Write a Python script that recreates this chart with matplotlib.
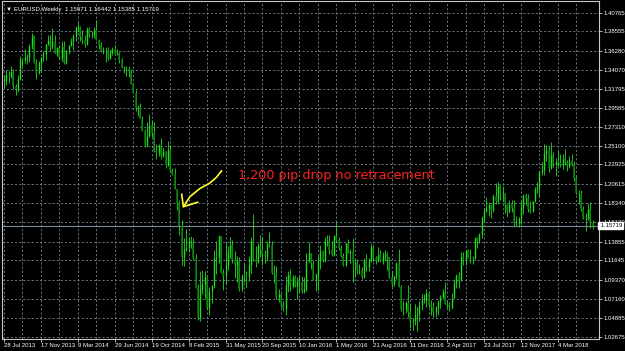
import matplotlib
matplotlib.use("Agg")
import matplotlib.pyplot as plt
import matplotlib.transforms as mtransforms
import numpy as np

# EURUSD weekly bars, week of 28 Jul 2013 .. week of 17 Jun 2018
first_open = 1.3278
closes = [
    1.3280, 1.3342, 1.3336, 1.3380, 1.3220, 1.3177, 1.3300, 1.3524, 1.3523, 1.3556,
    1.3553, 1.3685, 1.3801, 1.3485, 1.3363, 1.3497, 1.3554, 1.3588, 1.3705, 1.3742,
    1.3677, 1.3740, 1.3590, 1.3665, 1.3541, 1.3679, 1.3487, 1.3633, 1.3692, 1.3740,
    1.3802, 1.3911, 1.3911, 1.3792, 1.3751, 1.3704, 1.3886, 1.3810, 1.3830, 1.3870,
    1.3760, 1.3697, 1.3630, 1.3634, 1.3642, 1.3540, 1.3609, 1.3646, 1.3592, 1.3604,
    1.3525, 1.3430, 1.3429, 1.3411, 1.3402, 1.3240, 1.3133, 1.2951, 1.2963, 1.2832,
    1.2686, 1.2518, 1.2627, 1.2760, 1.2668, 1.2452, 1.2441, 1.2526, 1.2389, 1.2452,
    1.2288, 1.2467, 1.2226, 1.2180, 1.2000, 1.1842, 1.1565, 1.1204, 1.1289, 1.1316,
    1.1387, 1.1380, 1.1195, 1.0843, 1.0493, 1.0825, 1.0890, 1.0970, 1.0601, 1.0807,
    1.0874, 1.1198, 1.1200, 1.1448, 1.1015, 1.0985, 1.1112, 1.1265, 1.1350, 1.1166,
    1.1110, 1.1160, 1.0827, 1.0981, 1.0985, 1.0965, 1.1105, 1.1389, 1.1183, 1.1148,
    1.1338, 1.1296, 1.1233, 1.1211, 1.1358, 1.1350, 1.1013, 1.1002, 1.0740, 1.0770,
    1.0646, 1.0593, 1.0881, 1.0990, 1.0867, 1.0965, 1.0860, 1.0920, 1.0916, 1.0795,
    1.0831, 1.1156, 1.1256, 1.1130, 1.0932, 1.1008, 1.1153, 1.1273, 1.1165, 1.1390,
    1.1397, 1.1285, 1.1224, 1.1457, 1.1403, 1.1310, 1.1222, 1.1114, 1.1366, 1.1252,
    1.1279, 1.1135, 1.1137, 1.1052, 1.1050, 1.0974, 1.1175, 1.1085, 1.1160, 1.1325,
    1.1198, 1.1157, 1.1233, 1.1153, 1.1227, 1.1240, 1.1200, 1.0972, 1.0886, 1.0979,
    1.1135, 1.0855, 1.0588, 1.0588, 1.0663, 1.0559, 1.0448, 1.0454, 1.0517, 1.0530,
    1.0640, 1.0701, 1.0695, 1.0783, 1.0638, 1.0614, 1.0560, 1.0620, 1.0671, 1.0736,
    1.0798, 1.0652, 1.0643, 1.0615, 1.0723, 1.0896, 1.0998, 1.0933, 1.1206, 1.1165,
    1.1282, 1.1197, 1.1197, 1.1194, 1.1426, 1.1400, 1.1469, 1.1665, 1.1750, 1.1775,
    1.1821, 1.1761, 1.1923, 1.1860, 1.2036, 1.1946, 1.1951, 1.1815, 1.1733, 1.1822,
    1.1785, 1.1606, 1.1607, 1.1664, 1.1794, 1.1935, 1.1895, 1.1772, 1.1747, 1.1860,
    1.2005, 1.2029, 1.2202, 1.2222, 1.2427, 1.2458, 1.2252, 1.2405, 1.2296, 1.2317,
    1.2307, 1.2289, 1.2352, 1.2324, 1.2280, 1.2330, 1.2288, 1.2130, 1.1960, 1.1940,
    1.1770, 1.1650, 1.1658, 1.1768, 1.1609, 1.15719,
]
highs = [
    1.3346, 1.3401, 1.3393, 1.3453, 1.3415, 1.3236, 1.3340, 1.3569, 1.3540, 1.3646,
    1.3587, 1.3705, 1.3832, 1.3812, 1.3534, 1.3503, 1.3560, 1.3621, 1.3709, 1.3811,
    1.3811, 1.3893, 1.3810, 1.3675, 1.3702, 1.3739, 1.3740, 1.3619, 1.3696, 1.3774,
    1.3824, 1.3915, 1.3967, 1.3923, 1.3876, 1.3810, 1.3906, 1.3906, 1.3867, 1.3906,
    1.3993, 1.3765, 1.3737, 1.3670, 1.3670, 1.3677, 1.3646, 1.3679, 1.3701, 1.3644,
    1.3618, 1.3546, 1.3445, 1.3444, 1.3445, 1.3417, 1.3252, 1.3170, 1.2995, 1.3015,
    1.2860, 1.2705, 1.2791, 1.2887, 1.2811, 1.2790, 1.2535, 1.2530, 1.2600, 1.2500,
    1.2455, 1.2570, 1.2519, 1.2255, 1.2251, 1.2003, 1.1869, 1.1640, 1.1424, 1.1534,
    1.1443, 1.1450, 1.1428, 1.1245, 1.0888, 1.1043, 1.1052, 1.1035, 1.0986, 1.0849,
    1.0852, 1.1290, 1.1392, 1.1467, 1.1450, 1.1064, 1.1380, 1.1337, 1.1437, 1.1410,
    1.1278, 1.1216, 1.1200, 1.1008, 1.1129, 1.1044, 1.1214, 1.1440, 1.1714, 1.1331,
    1.1371, 1.1460, 1.1440, 1.1290, 1.1387, 1.1495, 1.1387, 1.1106, 1.1096, 1.0830,
    1.0780, 1.0686, 1.0981, 1.1043, 1.1060, 1.0990, 1.0994, 1.0971, 1.0994, 1.0986,
    1.0968, 1.1246, 1.1376, 1.1255, 1.1175, 1.1014, 1.1218, 1.1342, 1.1290, 1.1438,
    1.1464, 1.1465, 1.1398, 1.1462, 1.1616, 1.1445, 1.1345, 1.1250, 1.1370, 1.1416,
    1.1299, 1.1427, 1.1185, 1.1186, 1.1120, 1.1085, 1.1198, 1.1234, 1.1190, 1.1366,
    1.1340, 1.1222, 1.1327, 1.1282, 1.1258, 1.1282, 1.1258, 1.1208, 1.1039, 1.0986,
    1.1145, 1.1299, 1.0870, 1.0688, 1.0690, 1.0874, 1.0669, 1.0490, 1.0652, 1.0615,
    1.0685, 1.0775, 1.0775, 1.0829, 1.0800, 1.0700, 1.0679, 1.0630, 1.0700, 1.0760,
    1.0828, 1.0906, 1.0690, 1.0676, 1.0780, 1.0951, 1.1000, 1.1023, 1.1267, 1.1268,
    1.1285, 1.1296, 1.1296, 1.1215, 1.1445, 1.1445, 1.1489, 1.1683, 1.1777, 1.1910,
    1.1847, 1.1825, 1.1940, 1.2070, 1.2092, 1.2060, 1.2034, 1.1938, 1.1829, 1.1880,
    1.1880, 1.1880, 1.1690, 1.1673, 1.1860, 1.1940, 1.1961, 1.1940, 1.1863, 1.1866,
    1.2023, 1.2089, 1.2219, 1.2323, 1.2537, 1.2522, 1.2512, 1.2555, 1.2435, 1.2365,
    1.2446, 1.2413, 1.2413, 1.2476, 1.2345, 1.2396, 1.2414, 1.2330, 1.2152, 1.1996,
    1.1997, 1.1800, 1.1719, 1.1840, 1.1852, 1.16442,
]
lows = [
    1.3188, 1.3232, 1.3254, 1.3305, 1.3176, 1.3105, 1.3150, 1.3290, 1.3455, 1.3482,
    1.3471, 1.3497, 1.3650, 1.3480, 1.3296, 1.3360, 1.3401, 1.3509, 1.3518, 1.3693,
    1.3626, 1.3655, 1.3605, 1.3573, 1.3530, 1.3507, 1.3477, 1.3477, 1.3591, 1.3685,
    1.3642, 1.3745, 1.3861, 1.3749, 1.3705, 1.3673, 1.3700, 1.3791, 1.3780, 1.3774,
    1.3752, 1.3648, 1.3615, 1.3586, 1.3502, 1.3524, 1.3535, 1.3585, 1.3590, 1.3575,
    1.3490, 1.3421, 1.3367, 1.3333, 1.3318, 1.3244, 1.3130, 1.2918, 1.2860, 1.2835,
    1.2680, 1.2500, 1.2501, 1.2614, 1.2613, 1.2439, 1.2358, 1.2394, 1.2360, 1.2380,
    1.2246, 1.2270, 1.2219, 1.2165, 1.1999, 1.1754, 1.1459, 1.1114, 1.1097, 1.1270,
    1.1262, 1.1316, 1.1175, 1.0840, 1.0462, 1.0457, 1.0766, 1.0713, 1.0591, 1.0520,
    1.0662, 1.0836, 1.1000, 1.1138, 1.1016, 1.0818, 1.0886, 1.1048, 1.1189, 1.1135,
    1.0955, 1.0916, 1.0808, 1.0808, 1.0915, 1.0849, 1.0926, 1.1016, 1.1157, 1.1087,
    1.1134, 1.1210, 1.1105, 1.1136, 1.1161, 1.1319, 1.1006, 1.0896, 1.0706, 1.0674,
    1.0616, 1.0566, 1.0524, 1.0796, 1.0804, 1.0845, 1.0850, 1.0711, 1.0777, 1.0777,
    1.0780, 1.0810, 1.1150, 1.1059, 1.0930, 1.0810, 1.0822, 1.1058, 1.1143, 1.1144,
    1.1329, 1.1234, 1.1217, 1.1217, 1.1386, 1.1290, 1.1200, 1.1100, 1.1098, 1.1250,
    1.1130, 1.0912, 1.0970, 1.0999, 1.1000, 1.0951, 1.0952, 1.1045, 1.1045, 1.1150,
    1.1160, 1.1123, 1.1144, 1.1150, 1.1122, 1.1161, 1.1049, 1.0961, 1.0852, 1.0859,
    1.0943, 1.0853, 1.0568, 1.0518, 1.0550, 1.0505, 1.0366, 1.0350, 1.0410, 1.0340,
    1.0453, 1.0583, 1.0658, 1.0618, 1.0620, 1.0521, 1.0494, 1.0494, 1.0526, 1.0600,
    1.0708, 1.0650, 1.0605, 1.0570, 1.0590, 1.0720, 1.0838, 1.0839, 1.0920, 1.1109,
    1.1110, 1.1195, 1.1131, 1.1118, 1.1170, 1.1312, 1.1371, 1.1429, 1.1612, 1.1729,
    1.1688, 1.1662, 1.1730, 1.1822, 1.1823, 1.1869, 1.1860, 1.1717, 1.1669, 1.1730,
    1.1732, 1.1574, 1.1574, 1.1554, 1.1588, 1.1710, 1.1810, 1.1729, 1.1717, 1.1735,
    1.1850, 1.1955, 1.1915, 1.2165, 1.2166, 1.2335, 1.2206, 1.2235, 1.2260, 1.2154,
    1.2273, 1.2258, 1.2240, 1.2287, 1.2215, 1.2255, 1.2275, 1.2095, 1.1940, 1.1823,
    1.1750, 1.1647, 1.1510, 1.1640, 1.1540, 1.15385,
]

price_ticks = [1.40765, 1.38555, 1.36280, 1.34070, 1.31795, 1.29585, 1.27310,
               1.25100, 1.22925, 1.20615, 1.18340, 1.16130, 1.13855, 1.11645,
               1.09370, 1.07160, 1.04885, 1.02675]
date_labels = ["28 Jul 2013", "17 Nov 2013", "9 Mar 2014", "29 Jun 2014",
               "19 Oct 2014", "8 Feb 2015", "31 May 2015", "20 Sep 2015",
               "10 Jan 2016", "1 May 2016", "21 Aug 2016", "11 Dec 2016",
               "2 Apr 2017", "23 Jul 2017", "12 Nov 2017", "4 Mar 2018"]
header = "\u25bc EURUSD,Weekly  1.15971 1.16442 1.15385 1.15719"
last_price = 1.15719
note = "1,200 pip drop no retracement"
# hand drawn arrow (week index, price)
arrow_x = [94.3, 92.0, 89.0, 84.9, 80.6, 77.7]
arrow_y = [1.2219, 1.2140, 1.2070, 1.2010, 1.1915, 1.1796]
head_x = [77.0, 77.7, 83.9]
head_y = [1.1942, 1.1796, 1.1848]

bull = "#1ee01e"
bear = "#0b7c0b"
grid_c = "#778899"
fnt = ["Liberation Sans", "DejaVu Sans"]

n = len(closes)
x = np.arange(n)
c = np.array(closes)
h = np.array(highs)
l = np.array(lows)
o = np.array([first_open] + closes[:-1])
up = c >= o

fig = plt.figure(figsize=(6.25, 3.51), dpi=100, facecolor="black")
ax = fig.add_axes([2 / 625, 12 / 351, 597 / 625, 338 / 351], facecolor="black")
ax.set_xlim(-0.87, 257.8)
ax.set_ylim(1.02405, 1.42140)

# grid
ax.set_yticks(price_ticks)
ax.set_yticklabels([f"{p:.5f}" for p in price_ticks])
ax.set_xticks(np.arange(0, 16 * len(date_labels), 16))
ax.set_xticklabels(date_labels)
ax.set_xticks(np.arange(8, 16 * len(date_labels) + 8, 16), minor=True)
ax.grid(True, which="both", color=grid_c, lw=0.6, ls=(0, (2.5, 2.5)))
ax.set_axisbelow(True)

ax.yaxis.tick_right()
ax.tick_params(axis="both", colors="white", labelsize=4.3, length=2, width=0.5, pad=1)
ax.tick_params(axis="x", which="minor", length=0)
for lab in ax.get_xticklabels() + ax.get_yticklabels():
    lab.set_family(fnt)
for lab in ax.get_xticklabels():
    lab.set_ha("left")
for s in ax.spines.values():
    s.set_color("#c8c8c8")
    s.set_linewidth(0.8)

# candles
ax.vlines(x, l, h, color=bull, lw=0.6, zorder=3)
ax.vlines(x[up], o[up], c[up], color=bull, lw=1.0, zorder=4)
ax.vlines(x[~up], c[~up], o[~up], color=bear, lw=1.1, zorder=4)

# current price line and label
ax.axhline(last_price, color=grid_c, lw=0.8, zorder=2)
tr = mtransforms.blended_transform_factory(ax.transAxes, ax.transData)
ax.text(1.0, last_price, " " + f"{last_price:.5f}", transform=tr, ha="left", va="center",
        fontsize=4.3, family=fnt, color="black", zorder=10, clip_on=False,
        bbox=dict(boxstyle="square,pad=0.15", fc="white", ec="white"))

# header
ax.text(0.006, 0.982, header, transform=ax.transAxes, ha="left", va="top",
        fontsize=4.4, family=fnt, color="white", zorder=10)

# annotation
ax.text(101.4, 1.2160, note, ha="left", va="center", fontsize=9.2,
        family="DejaVu Sans", color="#ff2020", zorder=10)
ax.plot(arrow_x, arrow_y, color="#ffff30", lw=1.2, zorder=9, solid_capstyle="round",
        solid_joinstyle="round")
ax.plot(head_x, head_y, color="#ffff30", lw=1.2, zorder=9, solid_joinstyle="round")

fig.savefig("out.png", dpi=100, facecolor="black")
